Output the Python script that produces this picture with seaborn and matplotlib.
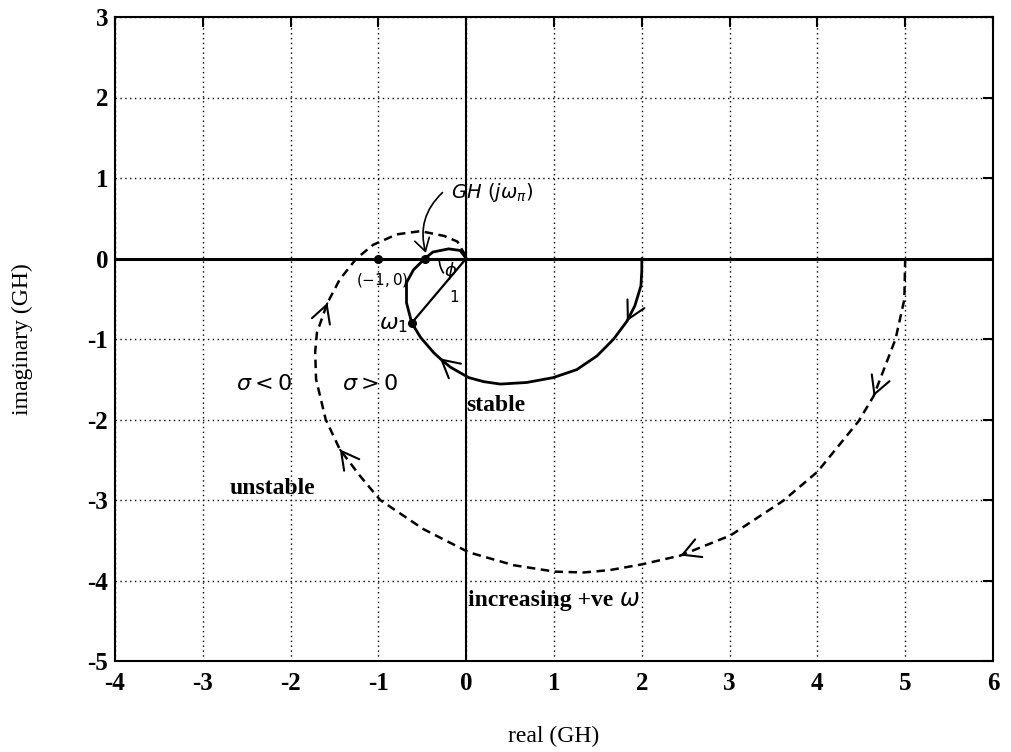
import matplotlib
matplotlib.use("Agg")
import matplotlib.pyplot as plt
import pandas as pd
import seaborn as sns
from matplotlib.patches import Arc

# Nyquist locus GH(jw), lower loop gain (solid) - traversed for increasing w
solid_re = [2.00, 2.00, 1.99, 1.92, 1.83, 1.68, 1.49, 1.26, 0.99, 0.69, 0.39, 0.20, 0.03,
            -0.18, -0.30, -0.37, -0.52, -0.62, -0.68, -0.68, -0.60, -0.47, -0.38, -0.20, -0.07, 0.00]
solid_im = [0.00, -0.15, -0.34, -0.59, -0.78, -1.00, -1.21, -1.38, -1.48, -1.54, -1.56, -1.53, -1.48,
            -1.35, -1.24, -1.17, -0.98, -0.80, -0.55, -0.30, -0.14, 0.00, 0.08, 0.12, 0.10, 0.00]

# Nyquist locus GH(jw), higher loop gain (dashed)
dashed_re = [5.00, 4.99, 4.89, 4.64, 4.47, 4.00, 3.61, 3.01, 2.44, 2.00, 1.64, 1.34, 1.01, 0.54,
             0.03, -0.49, -0.98, -1.21, -1.44, -1.60, -1.71, -1.72, -1.70, -1.58, -1.44, -1.25,
             -1.06, -0.79, -0.52, -0.25, -0.10, 0.00]
dashed_im = [0.00, -0.51, -1.00, -1.71, -2.02, -2.65, -3.01, -3.44, -3.69, -3.80, -3.87, -3.90,
             -3.89, -3.81, -3.65, -3.36, -3.00, -2.70, -2.37, -2.00, -1.50, -1.16, -0.92, -0.55,
             -0.26, 0.00, 0.17, 0.30, 0.34, 0.28, 0.21, 0.02]

# direction-of-travel chevrons (indices into the loci)
solid_arrow_idx = [4, 14]
dashed_arrow_idx = [3, 8, 18, 23]
# phase-crossover point GH(jw_pi) and unity-gain point w1 on the solid locus
phase_cross_idx = 21
omega1_idx = 17
critical_point = (-1.0, 0.0)

x_ticks = [-4, -3, -2, -1, 0, 1, 2, 3, 4, 5, 6]
x_tick_labels = ["-4", "-3", "-2", "-1", "0", "1", "2", "3", "4", "5", "6"]
y_ticks = [-5, -4, -3, -2, -1, 0, 1, 2, 3]
y_tick_labels = ["-5", "-4", "-3", "-2", "-1", "0", "1", "2", "3"]

sns.set_style("white")
plt.rcParams["font.family"] = ["Liberation Serif", "DejaVu Sans"]
plt.rcParams["mathtext.fontset"] = "dejavusans"
plt.rcParams["axes.unicode_minus"] = False

fig = plt.figure(figsize=(10.11, 7.52), dpi=100)
ax = fig.add_axes([115 / 1011, 1 - 661 / 752, 878 / 1011, 644 / 752])

ax.set_xlim(x_ticks[0], x_ticks[-1])
ax.set_ylim(y_ticks[0], y_ticks[-1])
ax.set_xticks(x_ticks)
ax.set_xticklabels(x_tick_labels)
ax.set_yticks(y_ticks)
ax.set_yticklabels(y_tick_labels)
ax.grid(True, color="black", linestyle=(0, (1, 2.5)), linewidth=1.0)
ax.set_axisbelow(True)
ax.tick_params(direction="in", length=7, width=1.5, top=True, right=True,
               labelsize=18, color="black", labelcolor="black")
ax.tick_params(axis="x", pad=8)
ax.tick_params(axis="y", pad=5)
for lab in ax.get_xticklabels() + ax.get_yticklabels():
    lab.set_fontweight("bold")
for sp in ax.spines.values():
    sp.set_color("black")
    sp.set_linewidth(1.5)

# real and imaginary axes
ax.axhline(0, color="black", linewidth=2.2, zorder=2)
ax.axvline(0, color="black", linewidth=1.5, zorder=2)

solid_df = pd.DataFrame({"re": solid_re, "im": solid_im})
dashed_df = pd.DataFrame({"re": dashed_re, "im": dashed_im})

sns.lineplot(data=solid_df, x="re", y="im", sort=False, estimator=None,
             color="black", linewidth=2.0, ax=ax, zorder=3,
             solid_joinstyle="round", solid_capstyle="round")
sns.lineplot(data=dashed_df, x="re", y="im", sort=False, estimator=None,
             color="black", linewidth=1.8, ax=ax, zorder=3,
             dash_joinstyle="round")
ax.lines[-1].set_linestyle((0, (3.4, 2.2)))


def chevron(xs, ys, i):
    dx = xs[i] - xs[i - 1]
    dy = ys[i] - ys[i - 1]
    ax.annotate("", xy=(xs[i], ys[i]), xytext=(xs[i] - 0.02 * dx, ys[i] - 0.02 * dy),
                arrowprops=dict(arrowstyle="->,head_length=0.7,head_width=0.38",
                                color="black", lw=1.5, shrinkA=0, shrinkB=0,
                                mutation_scale=18), zorder=4)


for i in solid_arrow_idx:
    chevron(solid_re, solid_im, i)
for i in dashed_arrow_idx:
    chevron(dashed_re, dashed_im, i)

# unit-radius line from the origin to w1, and the phase-margin angle
w1 = (solid_re[omega1_idx], solid_im[omega1_idx])
ax.plot([0, w1[0]], [0, w1[1]], color="black", linewidth=1.6, zorder=3)
ax.add_patch(Arc((0, 0), width=2 * 27 / 87.8, height=2 * 27 / 80.7,
                 theta1=180, theta2=216, color="black", linewidth=1.2, zorder=3))

# marked points
ax.plot([critical_point[0], solid_re[phase_cross_idx], w1[0]],
        [critical_point[1], solid_im[phase_cross_idx], w1[1]],
        linestyle="none", marker="o", markersize=5.5, color="black", zorder=5)

ax.annotate("", xy=(solid_re[phase_cross_idx] + 0.01, solid_im[phase_cross_idx] + 0.07),
            xytext=(-0.27, 0.82),
            arrowprops=dict(arrowstyle="->,head_length=0.5,head_width=0.3",
                            connectionstyle="arc3,rad=0.3", color="black", lw=1.2,
                            shrinkA=0, shrinkB=0, mutation_scale=18), zorder=4)

hand = dict(family="DejaVu Sans", color="black", ha="left", va="center")
ax.text(-0.17, 0.82, r"$GH\ (j\omega_\pi)$", fontsize=14, **hand)
ax.text(-1.25, -0.27, r"$(-1,0)$", fontsize=11, **hand)
ax.text(-0.99, -0.82, r"$\omega_1$", fontsize=16, **hand)
ax.text(-0.25, -0.15, r"$\phi$", fontsize=13, **hand)
ax.text(-0.20, -0.48, r"$1$", fontsize=11, **hand)
ax.text(-2.62, -1.56, r"$\sigma < 0$", fontsize=16, **hand)
ax.text(-1.42, -1.56, r"$\sigma > 0$", fontsize=16, **hand)
ax.text(1.74, -4.23, r"$\omega$", fontsize=17, **hand)

serif = dict(family="Liberation Serif", color="black", ha="left", va="center",
             fontsize=17, fontweight="bold")
ax.text(0.0, -1.82, "stable", **serif)
ax.text(-2.69, -2.86, "unstable", **serif)
ax.text(0.02, -4.25, "increasing +ve", **serif)

ax.set_xlabel("real (GH)", fontsize=17, color="black")
ax.set_ylabel("imaginary (GH)", fontsize=17, color="black")
ax.xaxis.set_label_coords(0.5, -0.100)
ax.yaxis.set_label_coords(-0.093, 0.5)

fig.savefig("out.png", dpi=100)
